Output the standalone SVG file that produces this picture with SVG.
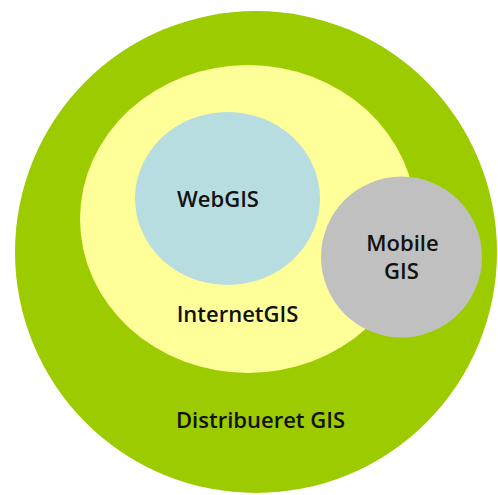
<svg xmlns="http://www.w3.org/2000/svg" width="498" height="495" viewBox="0 0 498 495">
  <style>
    .lbl { font-family: "Open Sans", "Noto Sans", "Liberation Sans", sans-serif; font-weight: 600; font-size: 22px; fill: #111111; text-anchor: middle; }
  </style>
  <rect x="0" y="0" width="498" height="495" fill="#ffffff"/>
  <g id="distribueret-gis">
    <circle cx="256" cy="252" r="241" fill="#9ccc00"/>
    <text class="lbl" x="260.5" y="428">Distribueret GIS</text>
  </g>
  <g id="internet-gis">
    <ellipse cx="248" cy="219" rx="168" ry="154" fill="#ffff99"/>
    <text class="lbl" x="237.5" y="322">InternetGIS</text>
  </g>
  <g id="web-gis">
    <ellipse cx="227.5" cy="198.5" rx="92.5" ry="86.5" fill="#b8dde1"/>
    <text class="lbl" x="218" y="207">WebGIS</text>
  </g>
  <g id="mobile-gis">
    <circle cx="401.5" cy="257" r="80.5" fill="#c0c0c0"/>
    <text class="lbl" x="402.5" y="251">Mobile</text>
    <text class="lbl" x="401.5" y="279">GIS</text>
  </g>
</svg>
